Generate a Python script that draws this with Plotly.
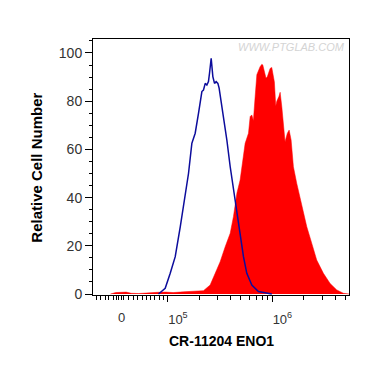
import plotly.graph_objects as go

# x values are positions on the (biexponential-like) display scale: 5 = 10^5, 6 = 10^6
isotype_x = [4.910, 4.974, 5.022, 5.070, 5.118, 5.165, 5.197, 5.229, 5.261, 5.293, 5.325,
             5.340, 5.357, 5.373, 5.388, 5.398, 5.414, 5.430, 5.446, 5.462, 5.478, 5.490,
             5.507, 5.532, 5.564, 5.596, 5.627, 5.660, 5.691, 5.723, 5.755, 5.803, 5.866, 5.994]
isotype_y = [0, 2.4, 8.6, 15.5, 27.9, 40.4, 50, 62.5, 66.7, 75, 84,
             84.6, 87.4, 86.7, 88.1, 91.6, 97.8, 90.2, 87.4, 88.1, 87.4, 85.4,
             80.5, 72.2, 63.9, 52.8, 43.2, 33.5, 23.8, 15.5, 8.6, 3.7, 1.0, 0]

eno1_x = [4.45, 4.50, 4.60, 4.65, 4.72, 4.80, 4.90, 4.98, 5.05, 5.15, 5.25,
          5.340, 5.404, 5.452, 5.500, 5.548, 5.596, 5.627, 5.660, 5.691, 5.723, 5.739,
          5.771, 5.787, 5.803, 5.818, 5.835, 5.851, 5.882, 5.899, 5.908, 5.930, 5.939,
          5.952, 5.978, 5.994, 6.009, 6.019, 6.032, 6.042, 6.063, 6.074, 6.090, 6.105,
          6.121, 6.143, 6.160, 6.179, 6.201, 6.233, 6.281, 6.329, 6.377, 6.424, 6.488,
          6.552, 6.616, 6.679, 6.733]
eno1_y = [0, 0.6, 0.8, 0.3, 0.2, 0.5, 0.7, 0.8, 0.6, 0.9, 1.0,
          1.4, 3.7, 8.6, 13.4, 19.6, 25.2, 32.1, 41.8, 47.3, 58.4, 62.5,
          66.7, 73.6, 74.3, 72, 82, 91, 94.3, 95.3, 95, 90.9, 89.5,
          90.2, 93.6, 94.0, 90.5, 88, 78, 80, 82, 83.7, 77.7, 70.8,
          63.2, 66.7, 68, 63.9, 52.8, 45.9, 36.2, 27.9, 21, 14.1, 8.6,
          4.4, 1.7, 0.3, 0]

x_tick_vals = [4.56, 5, 6]
x_tick_text = ["0", "10<sup>5</sup>", "10<sup>6</sup>"]
x_minor_vals = [4.317, 4.356, 4.398, 4.436, 4.477, 4.511, 4.530, 4.558, 4.577, 4.620,
                4.668, 4.709, 4.754, 4.795, 4.837, 4.876, 4.917, 4.955,
                5.301, 5.477, 5.602, 5.699, 5.778, 5.845, 5.903, 5.954,
                6.301, 6.477, 6.602, 6.699]
y_tick_vals = [0, 20, 40, 60, 80, 100]

x_title = "CR-11204 ENO1"
y_title = "Relative Cell Number"
watermark = "WWW.PTGLAB.COM"

fig = go.Figure()
fig.add_trace(go.Scatter(x=eno1_x, y=eno1_y, mode="lines", fill="tozeroy",
                         line=dict(color="#ff0000", width=0.5), fillcolor="#ff0000",
                         showlegend=False, hoverinfo="skip"))
fig.add_trace(go.Scatter(x=isotype_x, y=isotype_y, mode="lines",
                         line=dict(color="#0c0c9c", width=1.5),
                         showlegend=False, hoverinfo="skip"))

fig.update_layout(
    width=364, height=357,
    margin=dict(l=85, r=23, t=31, b=70),
    paper_bgcolor="white", plot_bgcolor="white",
    font=dict(family="Liberation Sans, Arial, sans-serif", color="#333333"),
    xaxis=dict(range=[4.283, 6.733], showgrid=False, zeroline=False,
               showline=True, linecolor="black", linewidth=1, mirror=True,
               tickmode="array", tickvals=x_tick_vals[1:], ticktext=x_tick_text[1:],
               ticks="outside", ticklen=6, tickcolor="black", tickwidth=1,
               ticklabelshift=10, ticklabelstandoff=6,
               tickfont=dict(size=13, color="#333333"),
               minor=dict(tickmode="array", tickvals=x_minor_vals, ticks="outside",
                          ticklen=3.5, tickcolor="black", tickwidth=1, showgrid=False)),
    yaxis=dict(range=[-0.41, 105.8], showgrid=False, zeroline=False,
               showline=True, linecolor="black", linewidth=1, mirror=True,
               tickmode="array", tickvals=y_tick_vals,
               ticks="outside", ticklen=7, tickcolor="black", tickwidth=1,
               tickfont=dict(size=14, color="#333333"),
               minor=dict(dtick=5, ticks="outside", ticklen=3.5, tickcolor="black",
                          tickwidth=1, showgrid=False)),
    annotations=[
        dict(x=x_tick_vals[0], y=-0.086, xref="x", yref="paper", text=x_tick_text[0],
             showarrow=False, xanchor="center", yanchor="middle",
             font=dict(size=13, color="#333333")),
        dict(x=0.5, y=-0.178, xref="paper", yref="paper", text="<b>" + x_title + "</b>",
             showarrow=False, xanchor="center", yanchor="middle",
             font=dict(size=14, color="black")),
        dict(x=-0.219, y=0.497, xref="paper", yref="paper", text="<b>" + y_title + "</b>",
             showarrow=False, textangle=-90, xanchor="center", yanchor="middle",
             font=dict(size=15, color="black")),
        dict(x=0.992, y=0.969, xref="paper", yref="paper", text="<i>" + watermark + "</i>",
             showarrow=False, xanchor="right", yanchor="middle",
             font=dict(size=11, color="#d4d4d4")),
    ],
)

fig.write_html("out.html")
